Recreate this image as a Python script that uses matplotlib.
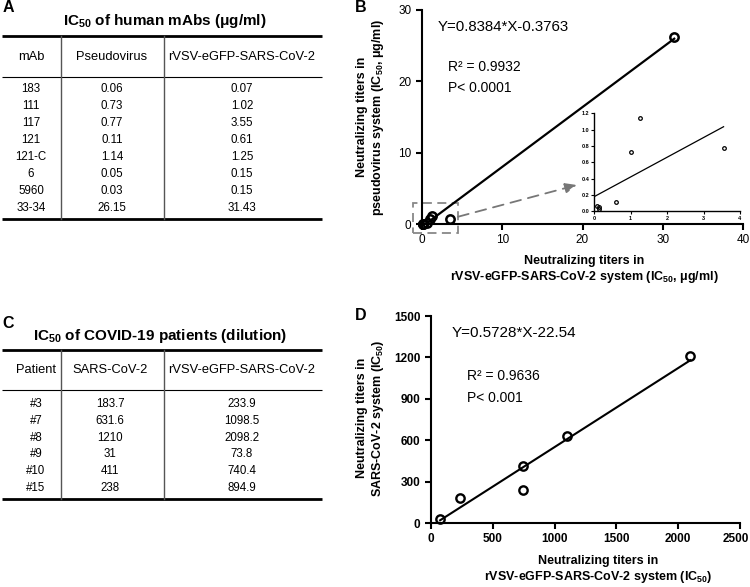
import matplotlib
matplotlib.use('Agg')
import matplotlib.pyplot as plt
import matplotlib.transforms as mtransforms
import numpy as np
from matplotlib.patches import Rectangle

plt.rcParams['font.family'] = ['Liberation Sans', 'DejaVu Sans']
plt.rcParams['mathtext.default'] = 'regular'

W, H = 750, 587

# ---------------- data ----------------
mab_names = ['183', '111', '117', '121', '121-C', '6', '5960', '33-34']
mab_pseudo = [0.06, 0.73, 0.77, 0.11, 1.14, 0.05, 0.03, 26.15]
mab_rvsv = [0.07, 1.02, 3.55, 0.61, 1.25, 0.15, 0.15, 31.43]

patients = ['#3', '#7', '#8', '#9', '#10', '#15']
pat_sars = [183.7, 631.6, 1210, 31, 411, 238]
pat_rvsv = [233.9, 1098.5, 2098.2, 73.8, 740.4, 894.9]

# positions of the points in panel D
d_x = [233.9, 1098.5, 2098.2, 73.8, 740.4, 740.4]
d_y = [183.7, 631.6, 1210, 31, 411, 238]

b_slope, b_int = 0.8384, -0.3763
d_slope, d_int = 0.5728, -22.54

b_xticks = [0, 10, 20, 30, 40]
b_yticks = [0, 10, 20, 30]
inset_xticks = [0, 1, 2, 3, 4]
inset_yticks = [0.0, 0.2, 0.4, 0.6, 0.8, 1.0, 1.2]
d_xticks = [0, 500, 1000, 1500, 2000, 2500]
d_yticks = [0, 300, 600, 900, 1200, 1500]

fig = plt.figure(figsize=(W / 100, H / 100), dpi=100)
fig.patch.set_facecolor('white')


def ax_px(x0, x1, ytop, ybot, **kw):
    return fig.add_axes([x0 / W, 1 - ybot / H, (x1 - x0) / W, (ybot - ytop) / H], **kw)


def fx(x):
    return x / W


def fy(y):
    return 1 - y / H


# ---------------- tables ----------------
tab = ax_px(0, W, 0, H)
tab.set_xlim(0, W)
tab.set_ylim(H, 0)
tab.axis('off')
tab.set_zorder(-1)


def draw_table(title, title_y, top, head_line, bottom, headers, col_centers, rows, row_y0, row_dy,
               title_x=162):
    tab.text(title_x, title_y, title, ha='center', va='center', fontsize=11, fontweight='bold')
    tab.plot([2, 322], [top, top], color='black', lw=2.0, solid_capstyle='butt')
    tab.plot([2, 322], [head_line, head_line], color='black', lw=0.8, solid_capstyle='butt')
    tab.plot([2, 322], [bottom, bottom], color='black', lw=2.0, solid_capstyle='butt')
    for xs in (61, 163.5):
        tab.plot([xs, xs], [top, bottom], color='#555555', lw=1.0)
    hy = (top + head_line) / 2
    for h, cx in zip(headers, col_centers):
        tab.text(cx, hy, h, ha='center', va='center', fontsize=9.3)
    for i, row in enumerate(rows):
        y = row_y0 + i * row_dy
        for v, cx in zip(row, col_centers):
            tab.text(cx, y, v, ha='center', va='center', fontsize=8.3)


rows_a = [(n, f'{p:.2f}', f'{r:.2f}') for n, p, r in zip(mab_names, mab_pseudo, mab_rvsv)]
draw_table('IC$_{50}$ of human mAbs (μg/ml)', 21, 36, 77, 219,
           ['mAb', 'Pseudovirus', 'rVSV-eGFP-SARS-CoV-2'], [31, 112, 242], rows_a, 89, 17,
           title_x=165)

rows_c = [(n, f'{s:g}', f'{r:g}') for n, s, r in zip(patients, pat_sars, pat_rvsv)]
draw_table('IC$_{50}$ of COVID-19 patients (dilution)', 336, 350, 390, 499,
           ['Patient', 'SARS-CoV-2', 'rVSV-eGFP-SARS-CoV-2'], [36, 110, 242], rows_c, 404, 16.8,
           title_x=160)

# panel letters
for letter, x, y in [('A', 8, 8), ('B', 361, 8), ('C', 8, 323), ('D', 361, 316)]:
    fig.text(fx(x), fy(y), letter, ha='center', va='center', fontsize=11.5, fontweight='bold')


def style_axes(ax, bold=False, lw=1.5, tl=4.5, fs=8.5):
    for s in ('top', 'right'):
        ax.spines[s].set_visible(False)
    for s in ('left', 'bottom'):
        ax.spines[s].set_linewidth(lw)
    ax.tick_params(direction='out', length=tl, width=lw, labelsize=fs, pad=3)
    if bold:
        for lab in ax.get_xticklabels() + ax.get_yticklabels():
            lab.set_fontweight('bold')


# ---------------- panel B ----------------
axb = ax_px(422, 743, 10, 224)
axb.set_xlim(0, 40)
axb.set_ylim(0, 30)
axb.set_xticks(b_xticks)
axb.set_yticks(b_yticks)
style_axes(axb)
xb = np.array([0, max(mab_rvsv)])
axb.plot(xb, b_slope * xb + b_int, color='black', lw=1.6, zorder=3)
axb.plot(mab_rvsv, mab_pseudo, 'o', mfc='none', mec='black', ms=6, mew=1.8, zorder=4, clip_on=False)
axb.text(fx(438), fy(27), 'Y=0.8384*X-0.3763', transform=fig.transFigure, ha='left', va='center',
         fontsize=10.8)
axb.text(fx(448), fy(67), 'R² = 0.9932', transform=fig.transFigure, ha='left', va='center', fontsize=10)
axb.text(fx(448), fy(88), 'P< 0.0001', transform=fig.transFigure, ha='left', va='center', fontsize=10)

rect = Rectangle((-1.1, -1.26), 5.6, 4.16, fill=False, ec='#888888', lw=1.3,
                 linestyle=(0, (5, 3)), clip_on=False, zorder=2)
axb.add_patch(rect)
axb.annotate('', xy=(fx(577), fy(185)), xycoords='figure fraction',
             xytext=(4.5, 1.02), textcoords='data',
             arrowprops=dict(arrowstyle='-|>,head_length=0.7,head_width=0.3', color='#777777',
                             lw=1.3, linestyle=(0, (6, 4)), shrinkA=0, shrinkB=0))

fig.text(fx(371), fy(117), 'Neutralizing titers in\npseudovirus system (IC$_{50}$, μg/ml)',
         rotation=90, ha='center', va='center', fontsize=9, fontweight='bold', multialignment='center',
         linespacing=1.15)
fig.text(fx(584), fy(270), 'Neutralizing titers in\nrVSV-eGFP-SARS-CoV-2 system (IC$_{50}$, μg/ml)',
         ha='center', va='center', fontsize=9, fontweight='bold', multialignment='center',
         linespacing=1.15)

# inset
axi = ax_px(594, 740, 113.3, 211.3)
axi.patch.set_alpha(0)
axi.set_xlim(0, 4)
axi.set_ylim(0, 1.2)
axi.set_xticks(inset_xticks)
axi.set_yticks(inset_yticks)
axi.set_yticklabels([f'{v:.1f}' for v in inset_yticks])
for s in ('top', 'right'):
    axi.spines[s].set_visible(False)
for s in ('left', 'bottom'):
    axi.spines[s].set_linewidth(1.0)
axi.tick_params(direction='out', length=2, width=0.8, labelsize=4, pad=1.5)
for lab in axi.get_xticklabels() + axi.get_yticklabels():
    lab.set_fontweight('bold')
small_x = np.array(mab_rvsv[:-1])
small_y = np.array(mab_pseudo[:-1])
k, c = np.polyfit(small_x, small_y, 1)
xi = np.array([0, small_x.max()])
axi.plot(xi, k * xi + c, color='black', lw=0.9)
axi.plot(small_x, small_y, 'o', mfc='none', mec='black', ms=2.6, mew=0.9, clip_on=False)

# ---------------- panel D ----------------
axd = ax_px(431, 740, 316, 523)
axd.set_xlim(0, 2500)
axd.set_ylim(0, 1500)
axd.set_xticks(d_xticks)
axd.set_yticks(d_yticks)
style_axes(axd, bold=True)
# keep the last tick label inside the figure
last = axd.get_xticklabels()[-1]
last.set_transform(last.get_transform() + mtransforms.ScaledTranslation(-4 / 100, 0, fig.dpi_scale_trans))
xd = np.array([min(d_x), max(d_x)])
axd.plot(xd, d_slope * xd + d_int, color='black', lw=1.5, zorder=3)
axd.plot(d_x, d_y, 'o', mfc='none', mec='black', ms=6, mew=1.7, zorder=4, clip_on=False)
axd.text(fx(452), fy(333), 'Y=0.5728*X-22.54', transform=fig.transFigure, ha='left', va='center',
         fontsize=11)
axd.text(fx(467), fy(376), 'R² = 0.9636', transform=fig.transFigure, ha='left', va='center', fontsize=10)
axd.text(fx(467), fy(398), 'P< 0.001', transform=fig.transFigure, ha='left', va='center', fontsize=10)

fig.text(fx(371), fy(418), 'Neutralizing titers in\nSARS-CoV-2 system (IC$_{50}$)',
         rotation=90, ha='center', va='center', fontsize=9, fontweight='bold', multialignment='center',
         linespacing=1.15)
fig.text(fx(598), fy(570), 'Neutralizing titers in\nrVSV-eGFP-SARS-CoV-2 system (IC$_{50}$)',
         ha='center', va='center', fontsize=9, fontweight='bold', multialignment='center',
         linespacing=1.15)

fig.savefig('out.png', dpi=100, facecolor='white')
